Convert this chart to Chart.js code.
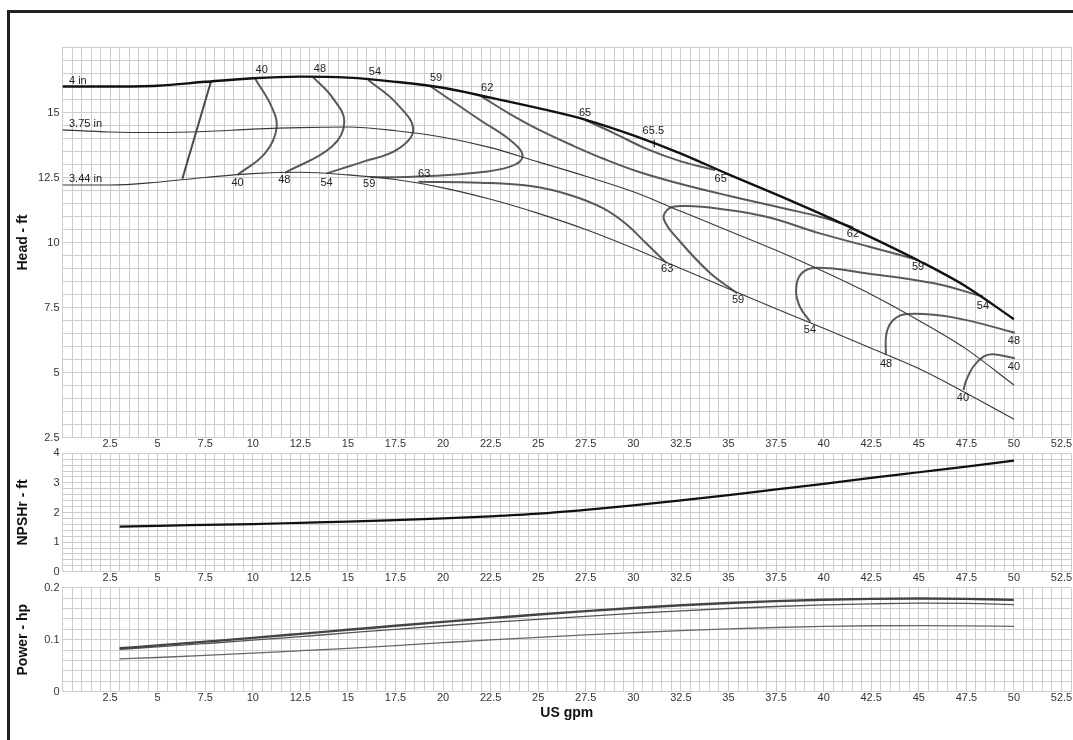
<!DOCTYPE html>
<html>
<head>
<meta charset="utf-8">
<script src="https://cdn.jsdelivr.net/npm/chart.js@4.4.1/dist/chart.umd.min.js"></script>
<style>
  html, body { margin:0; padding:0; background:#fff; width:1073px; height:740px; overflow:hidden; }
  #frame { position:absolute; left:7px; top:10px; width:2000px; height:2000px; border-left:3px solid #222; border-top:3px solid #222; }
  canvas { position:absolute; left:0; }
</style>
</head>
<body>
<div id="frame"></div>
<canvas id="head" width="1073" height="456" style="top:0px"></canvas>
<canvas id="npsh" width="1073" height="150" style="top:440px"></canvas>
<canvas id="power" width="1073" height="165" style="top:575px"></canvas>
<script>
// ---------------- DATA ----------------
const flow = [0,2.5,5,7.5,10,12.5,15,17.5,20,22.5,25,27.5,30,32.5,35,37.5,40,42.5,45,47.5,50];
const head4in  = [16.0,16.0,16.03,16.18,16.32,16.38,16.34,16.18,15.95,15.57,15.17,14.72,14.12,13.42,12.62,11.85,11.05,10.2,9.3,8.3,7.05];
const head375  = [14.33,14.25,14.23,14.27,14.36,14.42,14.44,14.3,14.05,13.65,13.1,12.55,11.95,11.2,10.45,9.7,8.88,8.0,7.0,5.9,4.52];
const head344  = [12.21,12.21,12.32,12.5,12.65,12.7,12.6,12.42,12.1,11.66,11.12,10.5,9.78,9.0,8.22,7.45,6.7,5.93,5.15,4.2,3.2];

const eff40L = [[10.12,16.31],[10.99,15.22],[11.25,14.39],[10.64,13.43],[9.2,12.6]];
const eff48L = [[13.18,16.35],[14.15,15.61],[14.81,14.65],[14.15,13.68],[11.69,12.68]];
const eff54L = [[16.07,16.25],[17.56,15.35],[18.43,14.33],[17.56,13.56],[15.81,13.11],[13.88,12.66]];
const eff59L = [[19.31,16.02],[21.94,14.71],[23.52,13.94],[24.18,13.33],[23.52,12.92],[21.41,12.66],[18.43,12.53],[16.16,12.51]];
const eff63  = [[18.7,12.34],[21.9,12.3],[24.6,12.17],[26.7,11.82],[28.4,11.32],[29.6,10.72],[30.7,9.95],[31.75,9.2]];
const eff62  = [[22.03,15.61],[23.5,14.95],[25,14.35],[26.84,13.72],[28.5,13.2],[30.35,12.7],[32.5,12.25],[35,11.8],[38,11.3],[40,10.95],[41.56,10.58]];
const eff65  = [[27.46,14.72],[29,14.2],[30.7,13.6],[32.5,13.12],[34.3,12.79]];
const eff59R = [[35.45,8.05],[34,8.85],[32.5,10.0],[31.6,10.9],[31.9,11.32],[32.8,11.4],[34.5,11.3],[37,10.99],[39.8,10.35],[42.4,9.84],[44.96,9.33]];
const eff54R = [[39.3,6.95],[38.75,7.53],[38.55,8.17],[38.8,8.78],[39.6,9.03],[42.3,8.81],[45.8,8.43],[48.37,7.92]];
const eff48R = [[43.27,5.67],[43.3,6.5],[43.66,7.02],[44.4,7.25],[46.8,7.12],[50.05,6.53]];
const eff40R = [[47.35,4.33],[47.5,4.71],[47.86,5.22],[48.4,5.61],[48.9,5.7],[50.05,5.55]];
const minFlow = [[6.3,12.45],[7.8,16.18]];
const bepMark = [[31.1,13.65],[31.1,13.95]];

const curveLabels = [['4 in',0.34,16.22],['3.75 in',0.34,14.56],['3.44 in',0.34,12.43]];
const effLabels = [
  ['40',10.47,16.63],['48',13.53,16.66],['54',16.42,16.55],['59',19.63,16.31],['62',22.32,15.93],['65',27.46,14.97],['65.5',31.05,14.3],
  ['40',9.2,12.3],['48',11.66,12.4],['54',13.88,12.28],['59',16.12,12.25],['63',19.01,12.62],
  ['63',31.78,8.98],['59',35.5,7.79],['54',39.28,6.63],['48',43.28,5.33],['40',47.32,4.02],
  ['65',34.59,12.43],['62',41.54,10.33],['59',44.96,9.06],['54',48.37,7.56],['48',50.0,6.21],['40',50.0,5.21]
];

const npshFlow = [3,5,7.5,10,12.5,15,17.5,20,22.5,25,27.5,30,32.5,35,37.5,40,42.5,45,47.5,50];
const npsh     = [1.52,1.55,1.58,1.61,1.65,1.69,1.74,1.80,1.87,1.96,2.09,2.24,2.41,2.59,2.78,2.97,3.17,3.36,3.55,3.75];

const powerFlow = [3,5,7.5,10,12.5,15,17.5,20,22.5,25,27.5,30,32.5,35,37.5,40,42.5,45,47.5,50];
const power4in  = [0.0835,0.089,0.0962,0.1035,0.1112,0.119,0.1268,0.1343,0.1415,0.1485,0.155,0.161,0.1662,0.1707,0.1742,0.1768,0.1785,0.1792,0.1785,0.1765];
const power375  = [0.0815,0.0862,0.0925,0.099,0.106,0.113,0.12,0.1268,0.1332,0.1392,0.145,0.1505,0.1555,0.16,0.1638,0.1668,0.169,0.1702,0.1698,0.1675];
const power344  = [0.063,0.0658,0.0698,0.0742,0.0788,0.0835,0.0888,0.0942,0.0995,0.1045,0.1092,0.1135,0.1175,0.1208,0.1235,0.1255,0.1268,0.1272,0.1267,0.1255];

// ---------------- HELPERS ----------------
const FONT = "'Liberation Sans', Arial, sans-serif";
const GRID = '#cdcdcd';
const TICK = '#333';
const isMult = (v, s) => Math.abs(v / s - Math.round(v / s)) < 1e-6;
const fmt = v => String(Math.round(v * 1000) / 1000);
const pts = (xs, ys) => xs.map((x, i) => ({x, y: ys[i]}));
const pairs = arr => arr.map(p => ({x: p[0], y: p[1]}));

function line(data, color, width, mode) {
  return {data, borderColor: color, borderWidth: width, pointRadius: 0, fill: false,
    tension: mode === 'straight' ? 0 : 0.4,
    cubicInterpolationMode: mode === 'mono' ? 'monotone' : 'default'};
}

function xScale(height, title) {
  const s = {
    type: 'linear', min: 0, max: 53,
    ticks: {stepSize: 0.5, autoSkip: false, maxRotation: 0, minRotation: 0, padding: 0, color: TICK,
      font: {family: FONT, size: 11},
      callback: v => (v > 0 && isMult(v, 2.5)) ? fmt(v) : ''},
    grid: {color: GRID, lineWidth: 1, drawTicks: false},
    border: {display: true, color: GRID},
    afterFit: sc => { sc.height = height; }
  };
  if (title) {
    s.title = {display: true, text: title, color: '#111', font: {family: FONT, size: 14, weight: 'bold'},
      padding: {top: 0, bottom: 18.6}};
  }
  return s;
}

function yScale(min, max, step, labelStep, showTop, title) {
  return {
    type: 'linear', min, max,
    ticks: {stepSize: step, autoSkip: false, padding: 3, color: TICK, font: {family: FONT, size: 11},
      callback: v => (isMult(v, labelStep) && (showTop || Math.abs(v - max) > 1e-9)) ? fmt(v) : ''},
    grid: {color: GRID, lineWidth: 1, drawTicks: false},
    border: {display: true, color: GRID},
    title: {display: true, text: title, color: '#111', font: {family: FONT, size: 14, weight: 'bold'},
      padding: {top: 15.1, bottom: 0}},
    afterFit: sc => { sc.width = 62.5; }
  };
}

const textPlugin = {
  id: 'texts',
  afterDatasetsDraw(chart, args, opts) {
    if (!opts.items) return;
    const {ctx, scales: {x, y}} = chart;
    ctx.save();
    ctx.font = '11px ' + FONT;
    ctx.fillStyle = '#222';
    ctx.textBaseline = 'middle';
    opts.items.forEach(it => {
      ctx.textAlign = it.align || 'center';
      ctx.fillText(it.text, x.getPixelForValue(it.x), y.getPixelForValue(it.y));
    });
    ctx.restore();
  }
};

const common = {
  responsive: false, animation: false, devicePixelRatio: 1,
  events: [],
  plugins: {legend: {display: false}, tooltip: {enabled: false}}
};

// ---------------- HEAD CHART ----------------
const EFF = '#595959';
const headItems = curveLabels.map(l => ({text: l[0], x: l[1], y: l[2], align: 'left'}))
  .concat(effLabels.map(l => ({text: l[0], x: l[1], y: l[2]})));

new Chart(document.getElementById('head'), {
  type: 'line',
  data: {datasets: [
    line(pts(flow, head4in), '#111', 2.4, 'mono'),
    line(pts(flow, head375), '#383838', 1.1, 'mono'),
    line(pts(flow, head344), '#383838', 1.1, 'mono'),
    line(pairs(eff40L), EFF, 2),
    line(pairs(eff48L), EFF, 2),
    line(pairs(eff54L), EFF, 2),
    line(pairs(eff59L), EFF, 2),
    line(pairs(eff63), EFF, 2),
    line(pairs(eff62), EFF, 2),
    line(pairs(eff65), EFF, 2),
    line(pairs(eff59R), EFF, 2),
    line(pairs(eff54R), EFF, 2),
    line(pairs(eff48R), EFF, 2),
    line(pairs(eff40R), EFF, 2),
    line(pairs(minFlow), '#4a4a4a', 2, 'straight'),
    line(pairs(bepMark), '#333', 1.2, 'straight')
  ]},
  options: Object.assign({}, common, {
    layout: {padding: {top: 47.5, right: 2, left: 0, bottom: 0}},
    scales: {x: xScale(18.5), y: yScale(2.5, 17.5, 0.5, 2.5, false, 'Head - ft')},
    plugins: Object.assign({}, common.plugins, {texts: {items: headItems}})
  }),
  plugins: [textPlugin]
});

// ---------------- NPSH CHART ----------------
new Chart(document.getElementById('npsh'), {
  type: 'line',
  data: {datasets: [line(pts(npshFlow, npsh), '#111', 2.2, 'mono')]},
  options: Object.assign({}, common, {
    layout: {padding: {top: 13.3, right: 2, left: 0, bottom: 0}},
    scales: {x: xScale(18.3), y: yScale(0, 4, 0.2, 1, true, 'NPSHr - ft')}
  })
});

// ---------------- POWER CHART ----------------
new Chart(document.getElementById('power'), {
  type: 'line',
  data: {datasets: [
    line(pts(powerFlow, power4in), '#444', 2.4, 'mono'),
    line(pts(powerFlow, power375), '#555', 1.3, 'mono'),
    line(pts(powerFlow, power344), '#666', 1.3, 'mono')
  ]},
  options: Object.assign({}, common, {
    layout: {padding: {top: 12.7, right: 2, left: 0, bottom: 0}},
    scales: {x: xScale(48.3, 'US gpm'), y: yScale(0, 0.2, 0.02, 0.1, true, 'Power - hp')}
  })
});
</script>
</body>
</html>
